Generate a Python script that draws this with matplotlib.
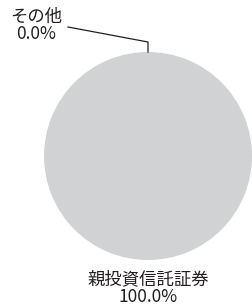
import numpy as np
import matplotlib
matplotlib.use("Agg")
import matplotlib.pyplot as plt

plt.rcParams['font.family'] = ['Noto Sans CJK JP', 'DejaVu Sans']

labels = ["親投資信託証券", "その他"]
values = [100.0, 0.0]
colors = ["#d1d2d4", "#ffffff"]
text_color = "#231f20"

W, H = 252, 306
fig = plt.figure(figsize=(W / 100, H / 100), dpi=100)
ax = fig.add_axes([0, 0, 1, 1])

cx, cy, r = 148, 150, 104
ax.pie(values, colors=colors, startangle=90, counterclock=False,
       center=(cx, cy), radius=r, frame=True,
       wedgeprops=dict(linewidth=0))
ax.set_xlim(0, W)
ax.set_ylim(0, H)
ax.set_aspect("equal")
ax.axis("off")

fs = 12.5
# main slice label below
ax.text(cx, cy - r - 28, f"{labels[0]}\n{values[0]:.1f}%", ha="center", va="center",
        fontsize=fs, color=text_color, linespacing=0.95)

# small slice label with leader line
top = cy + r
ax.plot([cx, cx, 68], [top, top + 10, top + 25], color=text_color, lw=0.9, clip_on=False)
ax.text(36, top + 27, f"{labels[1]}\n{values[1]:.1f}%", ha="center", va="center",
        fontsize=fs, color=text_color, linespacing=0.95)

fig.savefig("out.png", dpi=100)
